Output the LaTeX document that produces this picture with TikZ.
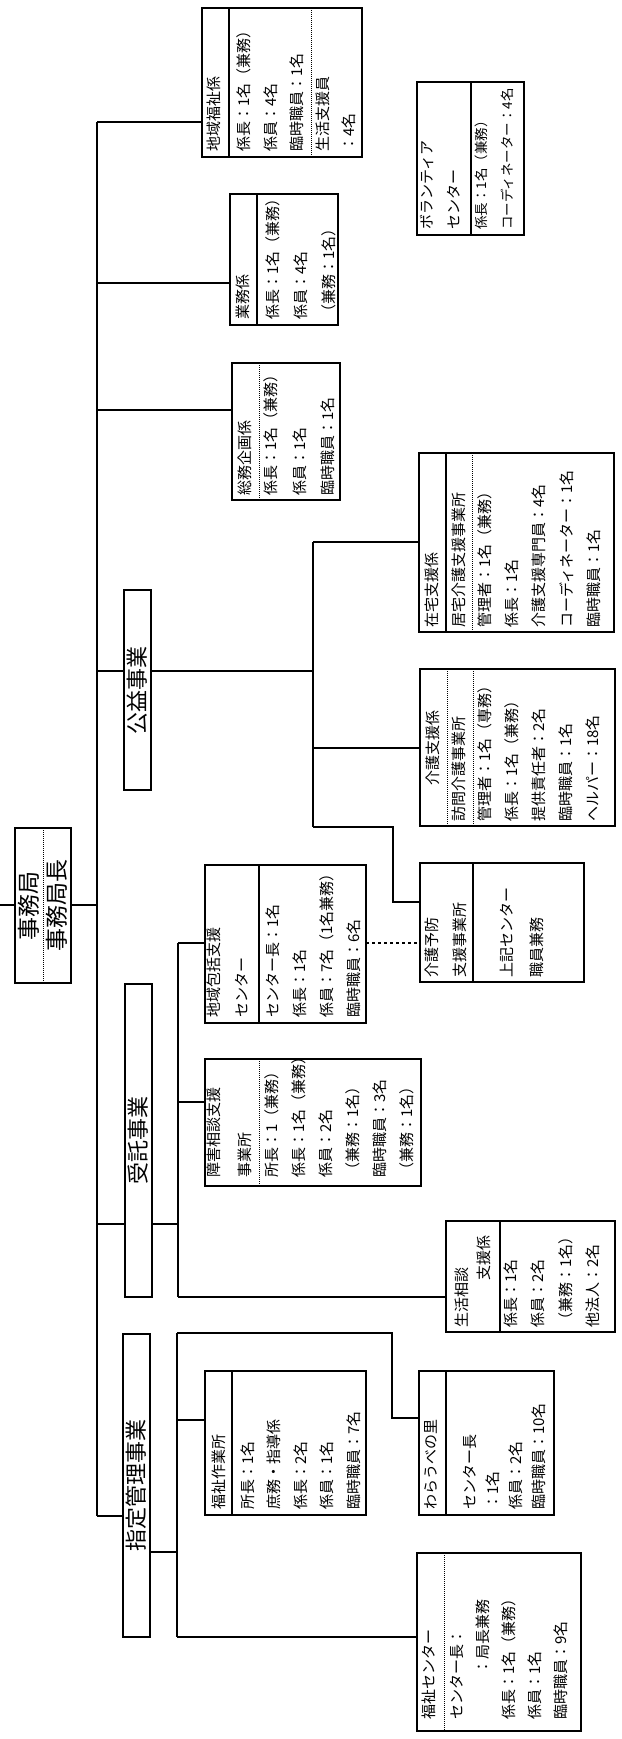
\documentclass[tikz,border=0pt]{standalone}
\usepackage{fontspec}
\newfontfamily\jpf{Noto Sans CJK JP}
\usetikzlibrary{fit}
\newcommand\tx[5][27]{\node[txt=#1] (#2) at ({#3-7.5},#4) {#5};}
\newcommand\sepl[3][ln]{\draw[#1] (#2.north -| #3,0) -- (#2.south -| #3,0);}
\newcommand\frm[5]{\node[frame, fit={(#2,#3) (#4,#5)}] (#1) {};}
\begin{document}
\begin{tikzpicture}[x=1pt,y=-1pt,
 ln/.style={line width=1.1pt},
 frame/.style={draw, line width=1.1pt, inner sep=0pt, outer sep=0pt, fill=white},
 dsep/.style={line width=1pt, densely dotted},
 txt/.style={rotate=90, anchor=north west, align=left, inner sep=0pt, font=\jpf\fontsize{15}{#1}\selectfont},
 txt/.default=27,
 ctxt/.style={rotate=90, anchor=center, inner sep=0pt, font=\jpf\fontsize{22}{26}\selectfont}]
\useasboundingbox[fill=white] (0,0) rectangle (621,1739);

% ---------- frames ----------
\frm{chiiki}{202}{8}{362}{157}
\frm{vol}{417}{82}{524}{235}
\frm{gyomu}{230}{194}{338}{325}
\frm{somu}{232}{363}{340}{500}
\frm{zaitaku}{419}{453}{614}{632}
\frm{kaigo}{420}{669}{615}{826}
\frm{yobo}{420}{863}{584}{982}
\frm{hokatsu}{205}{865}{366}{1023}
\frm{shogai}{205}{1059}{421}{1186}
\frm{seikatsu}{446}{1221}{615}{1332}
\frm{sagyo}{205}{1371}{366}{1515}
\frm{warabe}{419}{1371}{554}{1515}
\frm{fukushi}{417}{1553}{581}{1731}
\frm{koeki}{124}{590}{151}{790}
\frm{jutaku}{125}{984}{152}{1297}
\frm{shitei}{123}{1334}{150}{1637}
\frm{root}{15}{828}{71}{983}

% ---------- separators ----------
\sepl{chiiki}{229}
\sepl[dsep]{chiiki}{311}
\sepl{vol}{471}
\sepl{gyomu}{257}
\sepl[dsep]{somu}{259}
\sepl{zaitaku}{446}
\sepl[dsep]{zaitaku}{472}
\sepl[dsep]{kaigo}{447}
\sepl[dsep]{kaigo}{473}
\sepl{yobo}{473}
\sepl{hokatsu}{259}
\sepl[dsep]{shogai}{259}
\sepl{seikatsu}{500}
\sepl{sagyo}{232}
\sepl{warabe}{446}
\sepl[dsep]{fukushi}{444}
\sepl[dsep]{root}{43}

% ---------- texts ----------
\tx{t-chiiki1}{214}{152}{地域福祉係}
\tx[26.5]{t-chiiki2}{244}{152}{係長：1名（兼務）\\係員：4名\\臨時職員：1名}
\tx[26]{t-chiiki3}{323}{152}{生活支援員\\：4名}

\tx{t-vol1}{428}{230}{ボランティア\\センター}
\node[txt=26, font=\jpf\fontsize{13.5}{26}\selectfont] (t-vol2) at (475,230) {係長：1名（兼務）\\コーディネーター：4名};

\tx{t-gyomu1}{243}{320}{業務係}
\tx[28]{t-gyomu2}{273}{320}{係長：1名（兼務）\\係員：4名\\（兼務：1名）}

\tx{t-somu1}{245}{496}{総務企画係}
\tx[28.5]{t-somu2}{271}{496}{係長：1名（兼務）\\係員：1名\\臨時職員：1名}

\tx{t-zai1}{432}{628}{在宅支援係}
\tx{t-zai2}{459}{628}{居宅介護支援事業所}
\tx[27.2]{t-zai3}{485}{628}{管理者：1名（兼務）\\係長：1名\\介護支援専門員：4名\\コーディネーター：1名\\臨時職員：1名}

\node[txt=27, anchor=center] (t-kai1) at (433,748) {介護支援係};
\tx{t-kai2}{459}{822}{訪問介護事業所}
\tx[27]{t-kai3}{485}{822}{管理者：1名（専務）\\係長：1名（兼務）\\提供責任者：2名\\臨時職員：1名\\ヘルパー：18名}

\tx[28]{t-yobo1}{432}{978}{介護予防\\支援事業所}
\tx[30]{t-yobo2}{507}{978}{上記センター\\職員兼務}

\tx[28]{t-hok1}{214}{1018}{地域包括支援\\センター}
\tx[27]{t-hok2}{273}{1018}{センター長：1名\\係長：1名\\係員：7名（1名兼務）\\臨時職員：6名}

\tx[31]{t-sho1}{214}{1178}{障害相談支援\\事業所}
\tx[27]{t-sho2}{272}{1178}{所長：1（兼務）\\係長：1名（兼務）\\係員：2名\\（兼務：1名）\\臨時職員：3名\\（兼務：1名）}

\node[txt=22, text width=92pt] (t-sei1) at (455,1328) {生活相談\\\hspace*{0pt plus 1fill}支援係};
\tx[27.5]{t-sei2}{511}{1328}{係長：1名\\係員：2名\\（兼務：1名）\\他法人：2名}

\tx{t-sag1}{219}{1510}{福祉作業所}
\tx[26.5]{t-sag2}{248}{1510}{所長：1名\\庶務・指導係\\係長：2名\\係員：1名\\臨時職員：7名}

\tx{t-war1}{432}{1510}{わらうべの里}
\tx[23]{t-war2}{471}{1510}{センター長\\：1名\\係員：2名\\臨時職員：10名}

\tx{t-fuk1}{429}{1720}{福祉センター}
\tx[26]{t-fuk2}{458}{1720}{センター長：\\\hspace*{3em}：局長兼務\\係長：1名（兼務）\\係員：1名\\臨時職員：9名}

\node[ctxt] (t-koeki) at (137.5,690) {公益事業};
\node[ctxt] (t-jutaku) at (138.5,1140) {受託事業};
\node[ctxt] (t-shitei) at (136.5,1485) {指定管理事業};
\node[ctxt, font=\jpf\fontsize{23}{26}\selectfont] (t-root1) at (29,905.5) {事務局};
\node[ctxt, font=\jpf\fontsize{23}{26}\selectfont] (t-root2) at (57,905.5) {事務局長};

% ---------- connectors ----------
\coordinate (t1) at (97,122);
\coordinate (t2) at (97,283);
\coordinate (t3) at (97,410);
\coordinate (t4) at (97,671);
\coordinate (t5) at (97,905);
\coordinate (t6) at (97,1224);
\coordinate (t7) at (97,1516);
\coordinate (rt) at (0,905);
\draw[ln] (t1) -- (t7);
\draw[ln] (t1) -- (chiiki.west |- t1);
\draw[ln] (t2) -- (gyomu.west |- t2);
\draw[ln] (t3) -- (somu.west |- t3);
\draw[ln] (t5) -- (root.east |- t5);
\draw[ln] (rt) -- (root.west |- rt);

% 公益事業
\coordinate (kb1) at (313,542);
\coordinate (kb2) at (313,671);
\coordinate (kb3) at (313,748);
\coordinate (kb4) at (313,827);
\coordinate (kc1) at (393,827);
\coordinate (kc2) at (393,902);
\draw[ln] (t4) -- (koeki.west |- t4);
\draw[ln] (koeki.east |- t4) -- (kb2);
\draw[ln] (kb1) -- (kb4);
\draw[ln] (kb1) -- (zaitaku.west |- kb1);
\draw[ln] (kb3) -- (kaigo.west |- kb3);
\draw[ln] (kb4) -- (kc1) -- (kc2) -- (yobo.west |- kc2);

% 受託事業
\coordinate (jb1) at (178,943);
\coordinate (jb2) at (178,1102);
\coordinate (jb3) at (178,1224);
\coordinate (jb4) at (178,1297);
\draw[ln] (t6) -- (jutaku.west |- t6);
\draw[ln] (jutaku.east |- t6) -- (jb3);
\draw[ln] (jb1) -- (jb4);
\draw[ln] (jb1) -- (hokatsu.west |- jb1);
\draw[ln] (jb2) -- (shogai.west |- jb2);
\draw[ln] (jb4) -- (seikatsu.west |- jb4);
\draw[ln, dashed] (hokatsu.east |- jb1) -- (yobo.west |- jb1);

% 指定管理事業
\coordinate (sb1) at (177,1333);
\coordinate (sb2) at (177,1420);
\coordinate (sb3) at (177,1552);
\coordinate (sb4) at (177,1637);
\coordinate (sc1) at (392,1333);
\coordinate (sc2) at (392,1418);
\draw[ln] (t7) -- (shitei.west |- t7);
\draw[ln] (shitei.east |- sb3) -- (sb3);
\draw[ln] (sb1) -- (sb4);
\draw[ln] (sb1) -- (sc1) -- (sc2) -- (warabe.west |- sc2);
\draw[ln] (sb2) -- (sagyo.west |- sb2);
\draw[ln] (sb4) -- (fukushi.west |- sb4);
\end{tikzpicture}
\end{document}
